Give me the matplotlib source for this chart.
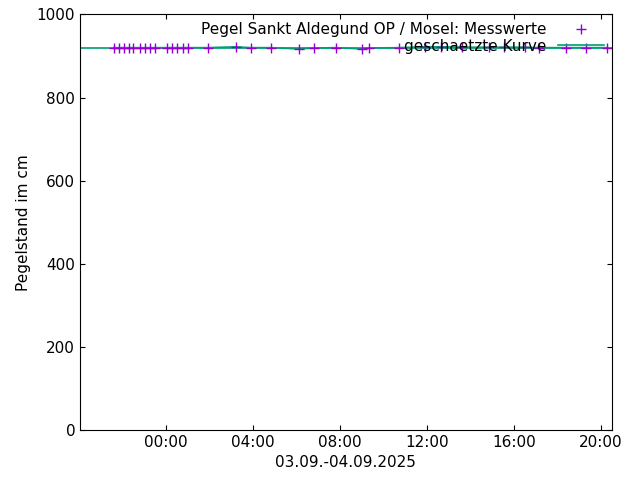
import matplotlib
matplotlib.use("Agg")
import matplotlib.pyplot as plt
import numpy as np

# hours since 03.09.2025 00:00
hours = [21.6, 21.85, 22.05, 22.3, 22.5, 22.8, 23.05, 23.25, 23.5, 24.05, 24.3, 24.5,
         24.8, 25.0, 25.95, 27.2, 27.9, 28.85, 30.1, 30.8, 31.8, 33.0, 33.35, 34.7,
         35.9, 36.65, 37.6, 38.85, 39.55, 40.5, 41.15, 42.4, 43.3, 44.3]
pegel = [920, 920, 920, 920, 920, 920, 920, 920, 920, 920, 920, 920,
         920, 920, 920, 922, 920, 920, 917, 919, 920, 917, 919, 920,
         922, 922, 921, 921, 921, 921, 920, 920, 920, 920]

fig, ax = plt.subplots(figsize=(6.4, 4.8), dpi=100)
ax.plot(hours, pegel, color='#009e73', lw=1.2, label='geschaetzte Kurve')
ax.plot(hours, pegel, ls='none', marker='+', ms=7, mew=1, color='#9400d3',
        label='Pegel Sankt Aldegund OP / Mosel: Messwerte')
ax.axhline(920, color='#009e73', lw=1.2, zorder=1)

ax.set_xlim(20.05, 44.5)
ax.set_ylim(0, 1000)
ax.set_xticks([24, 28, 32, 36, 40, 44])
ax.set_xticklabels(['00:00', '04:00', '08:00', '12:00', '16:00', '20:00'])
ax.set_yticks(range(0, 1001, 200))
ax.tick_params(direction='in', top=True, right=True, labelsize=11)
ax.set_xlabel('03.09.-04.09.2025', fontsize=11)
ax.set_ylabel('Pegelstand im cm', fontsize=11)

h, l = ax.get_legend_handles_labels()
ax.legend(h[::-1], l[::-1], loc='upper right', frameon=False, fontsize=11,
          markerfirst=False, borderaxespad=0.1, handlelength=3, labelspacing=0.1)

plt.subplots_adjust(left=0.125, right=0.956, top=0.97, bottom=0.104)
plt.savefig('out.png')
